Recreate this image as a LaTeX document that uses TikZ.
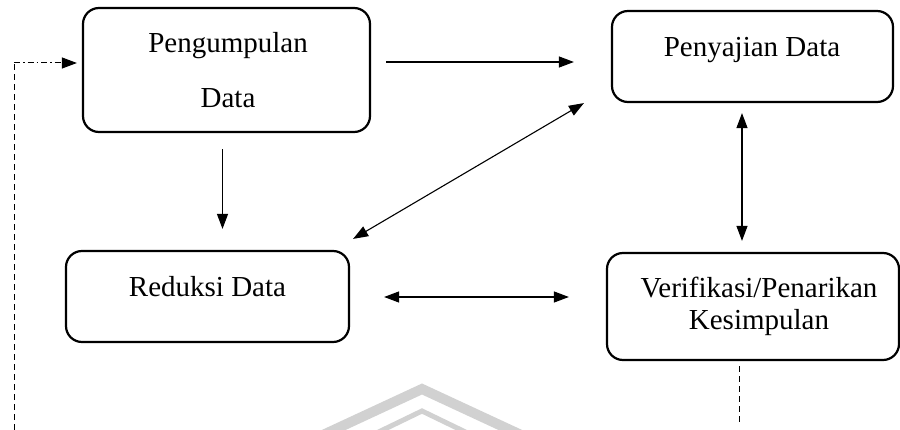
\documentclass[tikz,border=0pt]{standalone}
\usepackage{fontspec}
\setmainfont{Liberation Serif}
\usetikzlibrary{arrows.meta}
\begin{document}
\begin{tikzpicture}[x=1pt,y=-1pt,
  box/.style={draw, line width=2.2pt, rounded corners=16pt, inner sep=0pt},
  txt/.style={anchor=base, inner sep=0pt, font=\fontsize{29}{35}\selectfont},
  conn/.style={line width=1.1pt, -{Triangle[length=15pt,width=11pt]}},
  biconn/.style={line width=1.1pt, {Triangle[length=15pt,width=11pt]}-{Triangle[length=15pt,width=11pt]}},
  wm/.style={draw=black!18, line width=10pt, line join=miter}]
\useasboundingbox (0,0) rectangle (900,430);
% watermark
\draw[wm] (310,441) -- (422,389) -- (534,441);
\draw[wm, line width=5pt] (360,441) -- (422,411) -- (484,441);
% boxes
\node[box, minimum width=287pt, minimum height=124pt] (peng) at (226.5,70) {};
\node[box, minimum width=281pt, minimum height=91pt] (peny) at (752.5,56.5) {};
\node[box, minimum width=283pt, minimum height=91pt] (redu) at (207.5,296.5) {};
\node[box, minimum width=292pt, minimum height=107pt] (veri) at (753,306.5) {};
% texts
\node[txt] (t1) at (228,53) {Pengumpulan};
\node[txt] (t2) at (228,108) {Data};
\node[txt] (t3) at (752,57) {Penyajian Data};
\node[txt] (t4) at (207.5,297) {Reduksi Data};
\node[txt] (t5) at (759,298) {Verifikasi/Penarikan};
\node[txt] (t6) at (759,330) {Kesimpulan};
% connectors
\draw[conn, shorten <=15pt, shorten >=37pt] ([yshift=8pt]peng.east) -- ([yshift=-5.5pt]peny.west);
\draw[conn, shorten <=16pt, shorten >=21pt] ([xshift=-4pt]peng.south) -- ([xshift=-4pt]peng.south |- redu.north);
\draw[biconn] ([xshift=-27pt]peny.south west) -- ([xshift=3pt,yshift=11pt]redu.north east);
\draw[biconn, shorten <=34pt, shorten >=37pt] ([yshift=-0.5pt]redu.east) -- ([yshift=-0.5pt]redu.east -| veri.west);
\draw[biconn, shorten <=10pt, shorten >=11pt] ([xshift=-10.5pt]peny.south) -- ([xshift=-10.5pt]peny.south |- veri.north);
\coordinate (vend) at (739,423);
\draw[line width=1pt, dash pattern=on 6pt off 4pt, shorten <=5pt] (veri.south -| vend) -- (vend);
\coordinate (lbot) at (14,430);
\coordinate (ltop) at (14,63);
\draw[line width=1pt, dash pattern=on 6pt off 4pt] (lbot) -- (ltop);
\draw[line width=1pt, dash pattern=on 6pt off 3pt on 1.5pt off 3pt, -{Triangle[length=15pt,width=11pt]}, shorten >=5pt] (ltop) -- (ltop -| peng.west);
\end{tikzpicture}
\end{document}
